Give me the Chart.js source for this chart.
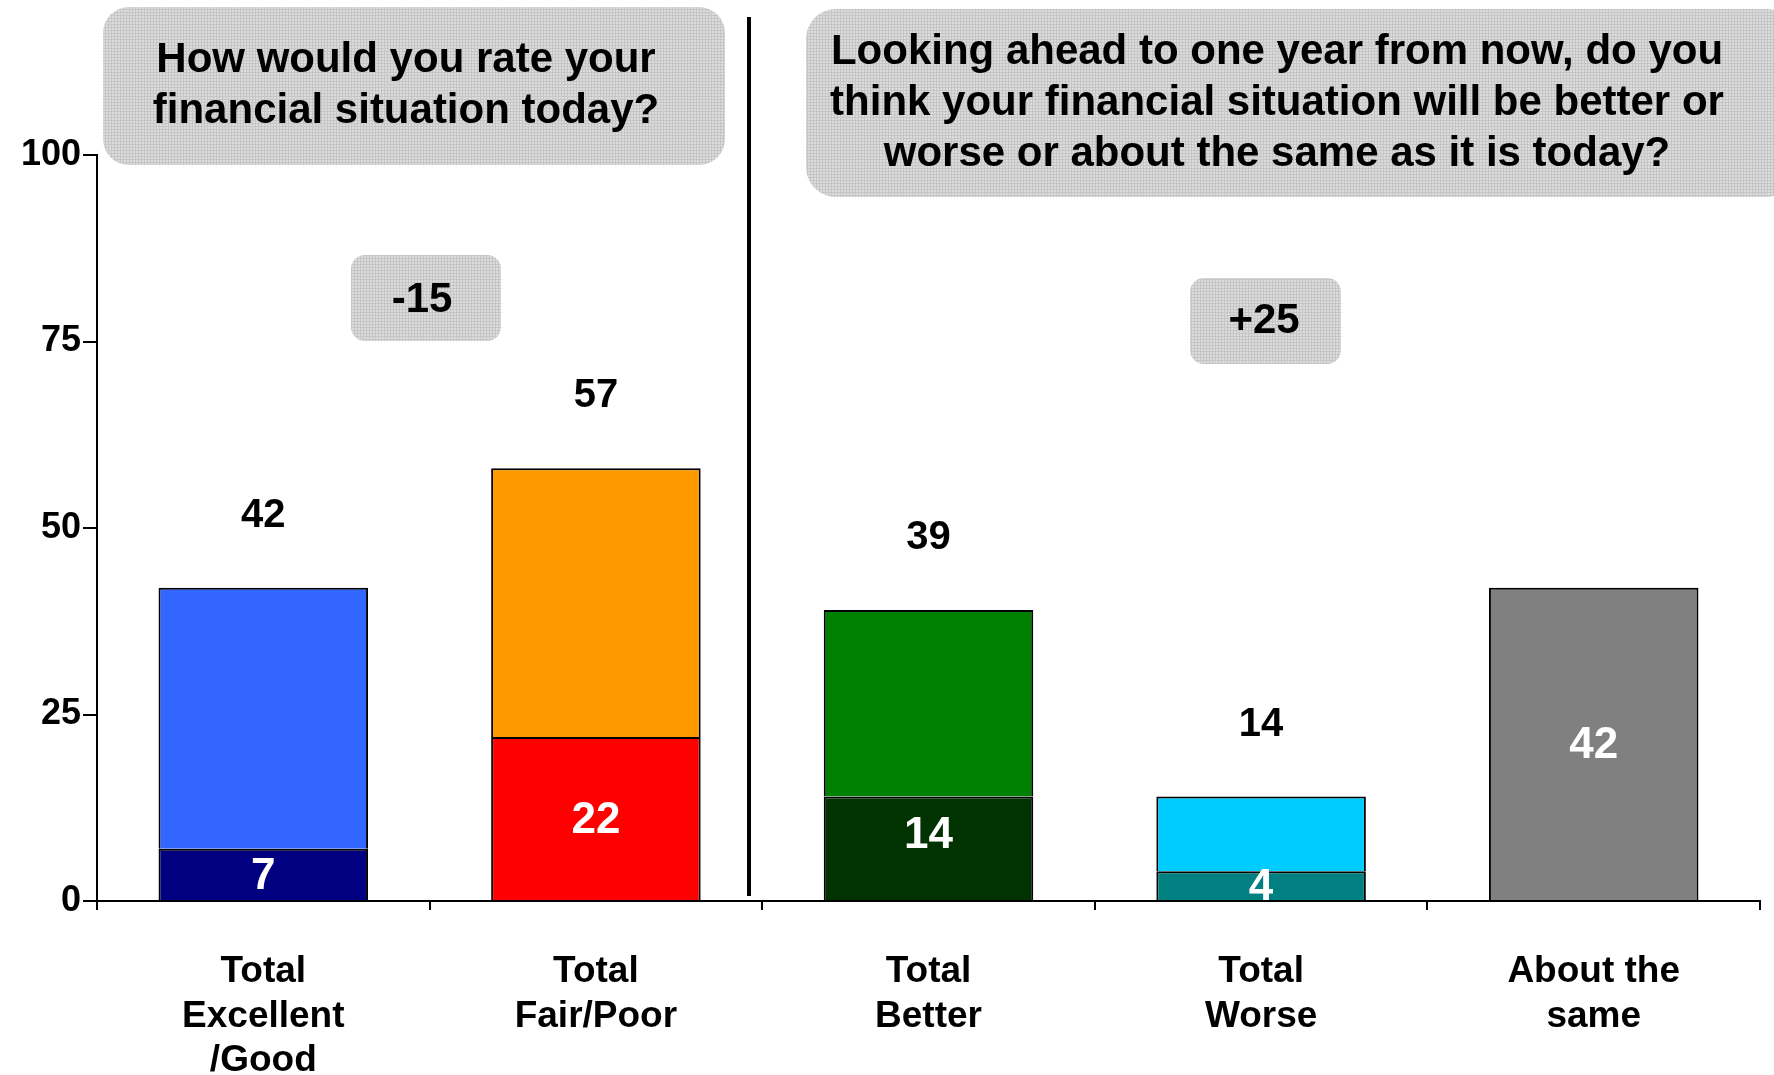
<!DOCTYPE html>
<html>
<head>
<meta charset="utf-8">
<script src="https://cdn.jsdelivr.net/npm/chart.js@4"></script>
<style>
    body { margin: 0; background: #fff; }
    #wrap { width: 1774px; height: 1075px; }
</style>
</head>
<body>
<div id="wrap"><canvas id="chart" width="1774" height="1075"></canvas></div>
<script>
// Данные графика
const categories = [['Total', 'Excellent', '/Good'], ['Total', 'Fair/Poor'], ['Total', 'Better'], ['Total', 'Worse'], ['About the', 'same']];
const baseValues = [7, 22, 14, 4, 42];
const restValues = [35, 36, 25, 10, null];
const totalLabels = ['42', '57', '39', '14', ''];
const innerLabels = ['7', '22', '14', '4', '42'];
const baseColors = ['#000080', '#FF0000', '#003300', '#008080', '#808080'];
const restColors = ['#3366FF', '#FF9900', '#008000', '#00CCFF', '#808080'];
const yTicks = [0, 25, 50, 75, 100];
const questionLeft = ['How would you rate your', 'financial situation today?'];
const questionRight = ['Looking ahead to one year from now, do you', 'think your financial situation will be better or', 'worse or about the same as it is today?'];
const diffLabels = ['-15', '+25'];

const FONT = '"Liberation Sans", Arial, sans-serif';

// Серый узор для плашек
function makePattern(ctx) {
    const c = document.createElement('canvas');
    c.width = 3; c.height = 3;
    const p = c.getContext('2d');
    p.fillStyle = '#dcdcdc';
    p.fillRect(0, 0, 3, 3);
    p.fillStyle = '#c6c6c6';
    p.fillRect(0, 0, 3, 1);
    p.fillRect(0, 0, 1, 3);
    return ctx.createPattern(c, 'repeat');
}

function box(ctx, x, y, w, h, r, fill) {
    ctx.beginPath();
    ctx.roundRect(x, y, w, h, r);
    ctx.fillStyle = fill;
    ctx.fill();
}

// Надписи, плашки и разделитель
const overlayPlugin = {
    id: 'overlay',
    afterDatasetsDraw(chart) {
        const ctx = chart.ctx;
        const m0 = chart.getDatasetMeta(0);
        const m1 = chart.getDatasetMeta(1);
        ctx.save();
        ctx.textAlign = 'center';
        ctx.textBaseline = 'middle';

        // значения внутри нижних сегментов
        ctx.fillStyle = '#fff';
        ctx.font = 'bold 44px ' + FONT;
        m0.data.forEach((bar, i) => {
            const shift = i === 2 ? -12 : 2;
            ctx.fillText(innerLabels[i], bar.x, (bar.y + bar.base) / 2 + shift);
        });

        // итоги над столбцами
        ctx.fillStyle = '#000';
        ctx.font = 'bold 40px ' + FONT;
        m0.data.forEach((bar, i) => {
            if (!totalLabels[i]) return;
            const top = restValues[i] != null ? m1.data[i].y : bar.y;
            ctx.fillText(totalLabels[i], bar.x, top - 72);
        });
        ctx.restore();
    },
    afterDraw(chart) {
        const ctx = chart.ctx;
        const pat = makePattern(ctx);
        ctx.save();

        // вертикальный разделитель
        ctx.strokeStyle = '#000';
        ctx.lineWidth = 4;
        ctx.beginPath();
        ctx.moveTo(749, 17);
        ctx.lineTo(749, 896);
        ctx.stroke();

        // плашки с вопросами
        box(ctx, 103, 7, 622, 158, 26, pat);
        box(ctx, 806, 9, 990, 188, 30, pat);
        ctx.fillStyle = '#000';
        ctx.textAlign = 'center';
        ctx.textBaseline = 'middle';
        ctx.font = 'bold 42px ' + FONT;
        questionLeft.forEach((t, i) => ctx.fillText(t, 406, 60 + i * 51));
        questionRight.forEach((t, i) => ctx.fillText(t, 1277, 52 + i * 51));

        // плашки с разницей
        box(ctx, 351, 255, 150, 86, 14, pat);
        box(ctx, 1190, 278, 151, 86, 14, pat);
        ctx.fillStyle = '#000';
        ctx.font = 'bold 42px ' + FONT;
        ctx.fillText(diffLabels[0], 422, 300);
        ctx.fillText(diffLabels[1], 1264, 321);
        ctx.restore();
    }
};

const ctx = document.getElementById('chart').getContext('2d');
const chart = new Chart(ctx, {
    type: 'bar',
    data: {
        labels: categories,
        datasets: [{
            data: baseValues,
            backgroundColor: baseColors,
            borderColor: '#000',
            borderWidth: 2,
            barPercentage: 0.63,
            categoryPercentage: 1
        }, {
            data: restValues,
            backgroundColor: restColors,
            borderColor: '#000',
            borderWidth: 2,
            barPercentage: 0.63,
            categoryPercentage: 1
        }]
    },
    options: {
        responsive: false,
        animation: false,
        layout: { padding: { top: 155, right: 14, left: 0, bottom: 0 } },
        plugins: {
            legend: { display: false },
            tooltip: { enabled: false }
        },
        scales: {
            x: {
                stacked: true,
                grid: { drawOnChartArea: false, drawTicks: true, tickLength: 9, color: '#000', lineWidth: 2, offset: true },
                border: { color: '#000', width: 2 },
                ticks: {
                    color: '#000',
                    font: { family: FONT, size: 37, weight: 'bold', lineHeight: 1.2 },
                    padding: 40,
                    maxRotation: 0,
                    autoSkip: false
                },
                afterFit: s => { s.height = 174; }
            },
            y: {
                stacked: true,
                min: 0,
                max: 100,
                afterBuildTicks: s => { s.ticks = yTicks.map(v => ({ value: v })); },
                grid: { drawOnChartArea: false, tickLength: 14, color: '#000', lineWidth: 2 },
                border: { color: '#000', width: 2 },
                ticks: {
                    color: '#000',
                    font: { family: FONT, size: 36, weight: 'bold' },
                    padding: 2
                },
                afterFit: s => { s.width = 97; }
            }
        }
    },
    plugins: [overlayPlugin]
});
</script>
</body>
</html>
